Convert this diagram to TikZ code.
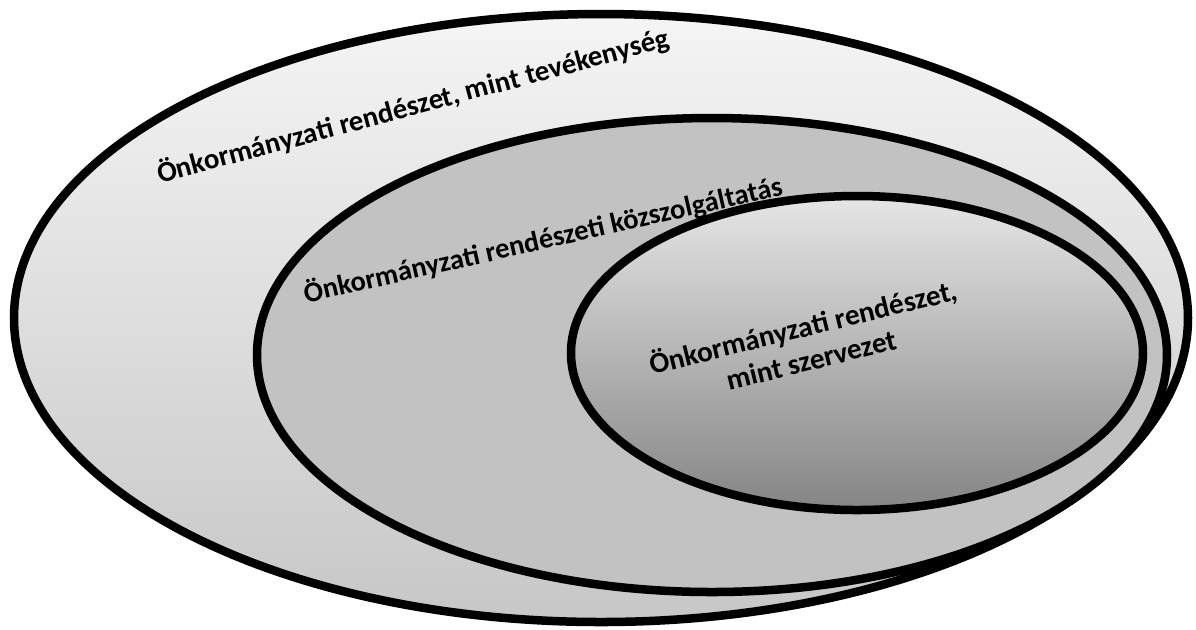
\documentclass[tikz,border=0pt]{standalone}
\usepackage{fontspec}
\setmainfont{Carlito}
\begin{document}
\begin{tikzpicture}[x=0.01cm, y=-0.01cm, ring/.style={draw=black, line width=0.085cm},
	lbl/.style 2 args={font=\bfseries\fontsize{#1}{#2}\selectfont, inner sep=0pt, align=center}]
	\useasboundingbox (0,0) rectangle (1196,629);
	\coordinate (O) at (601,318); \coordinate (M) at (712,355); \coordinate (I) at (857,353);

	\draw[ring, top color=black!4, bottom color=black!22] (O) ellipse [x radius=587, y radius=304];
	\draw[ring, fill=black!24] (M) ellipse [x radius=455, y radius=237];
	\draw[ring, top color=black!10, middle color=black!24, bottom color=black!48] (I) ellipse [x radius=286, y radius=157];

	\node[lbl={8.2}{9.5}, rotate=15] (t1) at (413,106) {Önkormányzati rendészet, mint tevékenység};
	\node[lbl={8.1}{9.4}, rotate=12.8] (t2) at (543,240) {Önkormányzati rendészeti közszolgáltatás};
	\node[lbl={8.3}{9.6}, rotate=13.8] (t3) at (807,342) {Önkormányzati rendészet,\\mint szervezet};
\end{tikzpicture}
\end{document}
